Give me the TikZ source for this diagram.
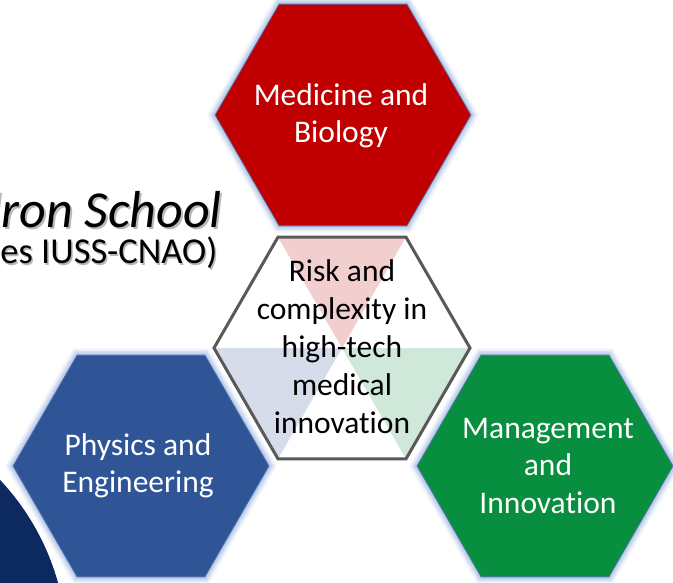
\documentclass[tikz,border=0pt]{standalone}
\usepackage{fontspec}
\setmainfont{Carlito}[RawFeature={-liga}]
\usetikzlibrary{calc}

\definecolor{medred}{HTML}{C00000}
\definecolor{physblue}{HTML}{2F5597}
\definecolor{mgmtgreen}{HTML}{078E3E}
\definecolor{navy}{HTML}{0C2A5F}
\definecolor{glowblue}{HTML}{B4C7E7}
\definecolor{rimblue}{HTML}{5676B5}
\definecolor{tintred}{HTML}{F2CECE}
\definecolor{tintblue}{HTML}{D6DCE9}
\definecolor{tintgreen}{HTML}{D0E8D9}
\definecolor{hexgray}{HTML}{595959}
\definecolor{shadowgray}{HTML}{B8B8B8}

\tikzset{
  hexlabel/.style={text=white, align=center, font=\fontsize{31.5}{37.5}\selectfont, inner sep=0pt},
  corelabel/.style={text=black, align=center, font=\fontsize{31.5}{38}\selectfont, inner sep=0pt},
  titletext/.style={anchor=base east, inner sep=0pt}
}

% hexagon outline around a centre point, flat top and bottom
\newcommand{\hexat}[1]{([shift={(0:128pt)}]#1) -- ([shift={(60:128pt)}]#1) -- ([shift={(120:128pt)}]#1) -- ([shift={(180:128pt)}]#1) -- ([shift={(240:128pt)}]#1) -- ([shift={(300:128pt)}]#1) -- cycle}

% coloured hexagon with a soft light-blue glow and thin rim
\newcommand{\glowhex}[2]{%
  \foreach \w/\o in {14/0.12,11/0.2,8/0.35,5/0.6}{
    \draw[glowblue, line width=\w pt, opacity=\o, line join=miter] \hexat{#1};
  }
  \fill[#2] \hexat{#1};
  \draw[rimblue, line width=0.8pt] \hexat{#1};
}

% text with a grey drop shadow set behind it
\newcommand{\shadowed}[2]{%
  \makebox[0pt][l]{\hspace{#1}\raisebox{-#1}{\color{shadowgray}#2}}#2}

\newcommand{\titlefont}{\fontsize{52}{52}\selectfont\itshape}
\newcommand{\subtitlefont}{\fontsize{36.5}{36.5}\selectfont}

\begin{document}
\begin{tikzpicture}[x=1pt,y=-1pt]
  \useasboundingbox (0,0) rectangle (673,583);
  \clip (0,0) rectangle (673,583);
  \fill[white] (0,0) rectangle (673,583);

  % centres of the four hexagons
  \coordinate (core) at (342,348);
  \coordinate (med) at (343,115);
  \coordinate (phys) at (141,466);
  \coordinate (mgmt) at (545,466);

  % navy disc in the lower-left corner
  \coordinate (disc) at (-180,649);
  \draw[white, line width=10pt] (disc) circle[radius=247];
  \fill[navy] (disc) circle[radius=247];

  % title lines
  \node[titletext] (title) at (222,228) {\titlefont\shadowed{2pt}{dron School}};
  \node[titletext] (subtitle) at (217.5,264) {\subtitlefont\shadowed{1.5pt}{es IUSS-CNAO)}};

  % outer hexagons
  \glowhex{med}{medred}
  \glowhex{phys}{physblue}
  \glowhex{mgmt}{mgmtgreen}

  % central hexagon with tinted sectors
  \fill[white] \hexat{core};
  \fill[tintred] ([shift={(120:128pt)}]core) -- ([shift={(60:128pt)}]core) -- (core) -- cycle;
  \fill[tintblue] ([shift={(180:128pt)}]core) -- (core) -- ([shift={(240:128pt)}]core) -- cycle;
  \fill[tintgreen] (core) -- ([shift={(0:128pt)}]core) -- ([shift={(300:128pt)}]core) -- cycle;
  \draw[hexgray, line width=3pt, line join=miter] \hexat{core};

  % labels
  \node[hexlabel] (medtext) at ($(med)+(-2,1)$) {Medicine and\\Biology};
  \node[hexlabel] (phystext) at ($(phys)+(-3,0)$) {Physics and\\Engineering};
  \node[hexlabel] (mgmttext) at ($(mgmt)+(3,0)$) {Management\\and\\Innovation};
  \node[corelabel] (coretext) at ($(core)+(0,-1)$) {Risk and\\complexity in\\high-tech\\medical\\innovation};
\end{tikzpicture}
\end{document}
